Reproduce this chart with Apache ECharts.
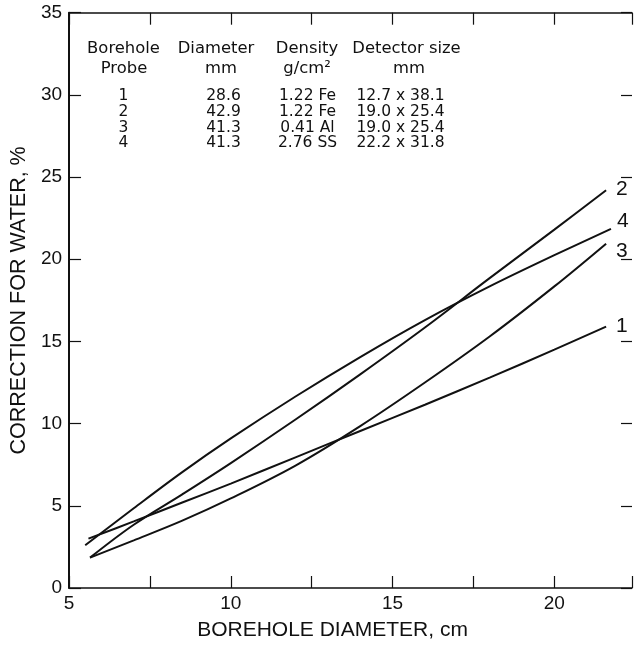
<!DOCTYPE html>
<html>
<head>
<meta charset="utf-8">
<script src="https://cdn.jsdelivr.net/npm/echarts@6/dist/echarts.min.js"></script>
<style>
  html, body { margin: 0; padding: 0; background: #fff; }
  #chart { width: 635px; height: 646px; }
</style>
</head>
<body>
<div id="chart"></div>
<script>
// ---- Data ----
const probeNames = ['1', '2', '3', '4'];
// [borehole diameter (cm), correction for water (%)]
const curve1 = [[5.6, 3.0], [7, 4.05], [8.5, 5.2], [10, 6.35], [12, 7.95], [14, 9.55], [16, 11.15], [18, 12.8], [20, 14.5], [21.6, 15.9]];
const curve2 = [[5.65, 1.85], [7, 3.85], [8.5, 5.7], [10, 7.6], [12, 10.25], [14, 13.0], [16, 15.85], [18, 18.85], [20, 21.8], [21.6, 24.2]];
const curve3 = [[5.65, 1.85], [7, 2.9], [8.5, 4.1], [10, 5.45], [12, 7.45], [14, 9.85], [16, 12.5], [18, 15.3], [20, 18.35], [21.6, 20.95]];
const curve4 = [[5.5, 2.6], [7, 4.85], [8.5, 7.05], [10, 9.1], [12, 11.65], [14, 14.05], [16, 16.3], [18, 18.35], [20, 20.25], [21.75, 21.85]];
const curves = [curve1, curve2, curve3, curve4];

// Table inside the plot
const headerLine1 = ['Borehole', 'Diameter', 'Density', 'Detector size'];
const headerLine2 = ['Probe', 'mm', 'g/cm²', 'mm'];
const tableProbe = ['1', '2', '3', '4'];
const tableDiameter = ['28.6', '42.9', '41.3', '41.3'];
const tableDensity = ['1.22 Fe', '1.22 Fe', '0.41 Al', '2.76 SS'];
const tableDetector = ['12.7 x 38.1', '19.0 x 25.4', '19.0 x 25.4', '22.2 x 31.8'];

// Axis settings
const xMin = 5, xMax = 22.4, xStep = 2.5;
const yMin = 0, yMax = 35, yStep = 5;
const xTitle = 'BOREHOLE DIAMETER, cm';
const yTitle = 'CORRECTION FOR WATER, %';

// ---- Layout / style ----
const INK = '#111';
const FONT = '"Liberation Sans", Arial, Helvetica, sans-serif';
const TFONT = '"DejaVu Sans", "Liberation Sans", sans-serif';

const colX1 = [123.5, 216, 307, 406.5];
const colX2 = [124, 221, 307, 409];
const colXData = [123.5, 223.5, 307.5, 400.5];
const rowY = [95.5, 111.5, 127.5, 143];

const graphics = [];
function addText(txt, x, y, size) {
  graphics.push({
    type: 'text', x: x, y: y, silent: true,
    style: {
      text: txt, fill: INK, font: size + 'px ' + TFONT,
      textAlign: 'center', textVerticalAlign: 'middle',
      align: 'center', verticalAlign: 'middle'
    }
  });
}
headerLine1.forEach((t, i) => addText(t, colX1[i], 48.5, 16.4));
headerLine2.forEach((t, i) => addText(t, colX2[i], 68.5, 16.4));
const tableCols = [tableProbe, tableDiameter, tableDensity, tableDetector];
tableCols.forEach((col, c) => col.forEach((t, r) => addText(t, colXData[c], rowY[r], 15.5)));

const endOffsets = { '1': [5, 0], '2': [5, -1.5], '3': [5, 7.5], '4': [1, -7.5] };

const chart = echarts.init(document.getElementById('chart'), null, { renderer: 'canvas' });
chart.setOption({
  animation: false,
  backgroundColor: '#fff',
  grid: { left: 68.5, top: 12.7, width: 568, height: 578, containLabel: false },
  xAxis: [
    {
      type: 'value', position: 'bottom', min: xMin, max: xMax, interval: xStep,
      name: xTitle, nameLocation: 'middle', nameGap: 32,
      nameTextStyle: { color: INK, fontSize: 21, fontFamily: FONT, padding: [0, 36, 0, 0] },
      axisLine: { show: true, onZero: false, lineStyle: { color: INK, width: 1.5 } },
      axisTick: { show: true, inside: true, length: 12, lineStyle: { color: INK, width: 1.2 } },
      axisLabel: {
        color: INK, fontSize: 19, fontFamily: FONT, margin: 6,
        formatter: v => (Math.abs(v % 5) < 1e-9 ? String(v) : '')
      },
      splitLine: { show: false }
    },
    {
      type: 'value', position: 'top', min: xMin, max: xMax, interval: xStep,
      axisLine: { show: true, onZero: false, lineStyle: { color: INK, width: 1.5 } },
      axisTick: { show: true, inside: true, length: 12, lineStyle: { color: INK, width: 1.2 } },
      axisLabel: { show: false },
      splitLine: { show: false }
    }
  ],
  yAxis: [
    {
      type: 'value', position: 'left', min: yMin, max: yMax, interval: yStep,
      name: yTitle, nameLocation: 'middle', nameGap: 38,
      nameTextStyle: { color: INK, fontSize: 21.5, fontFamily: FONT },
      axisLine: { show: true, onZero: false, lineStyle: { color: INK, width: 2 } },
      axisTick: { show: true, inside: true, length: 12, lineStyle: { color: INK, width: 1.2 } },
      axisLabel: { color: INK, fontSize: 19, fontFamily: FONT, margin: 7 },
      splitLine: { show: false }
    },
    {
      type: 'value', position: 'right', min: yMin, max: yMax, interval: yStep,
      axisLine: { show: false },
      axisTick: { show: true, inside: true, length: 11, lineStyle: { color: INK, width: 1.2 } },
      axisLabel: { show: false },
      splitLine: { show: false }
    }
  ],
  series: curves.map((data, i) => ({
    name: probeNames[i],
    type: 'line',
    xAxisIndex: 0, yAxisIndex: 0,
    data: data,
    smooth: 0.35,
    symbol: 'none',
    clip: false,
    lineStyle: { color: INK, width: 2 },
    endLabel: {
      show: true, formatter: '{a}', color: INK, fontSize: 21, fontFamily: FONT,
      distance: 5, offset: endOffsets[probeNames[i]]
    }
  })),
  graphic: graphics
});
</script>
</body>
</html>
